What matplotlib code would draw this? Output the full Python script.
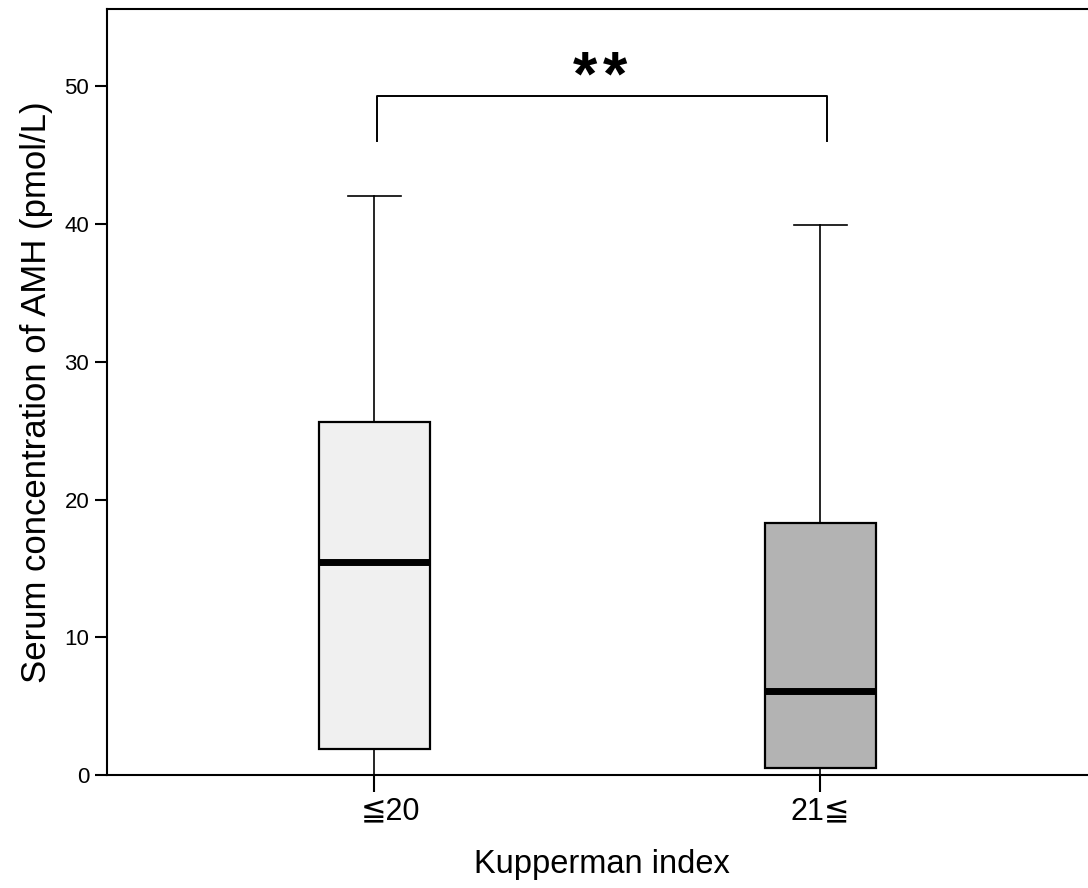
import matplotlib.pyplot as plt
from matplotlib.transforms import ScaledTranslation

plt.rcParams['font.family'] = ['Liberation Sans', 'DejaVu Sans', 'Noto Sans CJK JP']

groups = ['≦20', '21≦']
q1 = [1.9, 0.5]
med = [15.45, 6.1]
q3 = [25.6, 18.3]
whis_lo = [0.0, 0.0]
whis_hi = [42.0, 39.9]
colors = ['#f0f0f0', '#b3b3b3']

stats = []
for i in range(len(groups)):
    stats.append({'med': med[i], 'q1': q1[i], 'q3': q3[i],
                  'whislo': whis_lo[i], 'whishi': whis_hi[i],
                  'fliers': [], 'label': groups[i]})

fig = plt.figure(figsize=(10.88, 8.88), dpi=100)
ax = fig.add_axes([0.098, 0.127, 0.902, 0.863])

bp = ax.bxp(stats, positions=[1, 2], widths=0.25, patch_artist=True,
            showfliers=False,
            boxprops=dict(linewidth=1.6, edgecolor='black'),
            medianprops=dict(color='black', linewidth=5, solid_capstyle='butt'),
            whiskerprops=dict(color='black', linewidth=1.2),
            capprops=dict(color='black', linewidth=1.2),
            capwidths=0.12)
for patch, c in zip(bp['boxes'], colors):
    patch.set_facecolor(c)

# significance bracket + stars
ax.plot([1.005, 1.005, 2.015, 2.015], [46.0, 49.3, 49.3, 46.0], color='black', lw=1.4)
for dx in [-0.15, 0.15]:
    ax.text(1.507, 49.4, '*', ha='center', va='baseline', fontsize=45, fontweight='bold',
            transform=ax.transData + ScaledTranslation(dx, 0, fig.dpi_scale_trans))

ax.set_xlim(0.4, 2.6)
ax.set_ylim(0, 55.6)
ax.set_yticks([0, 10, 20, 30, 40, 50])
ax.set_xticks([1, 2])
ax.set_xticklabels(groups, fontsize=22)
ax.tick_params(axis='y', labelsize=16, length=9, width=1.5, direction='out')
ax.tick_params(axis='x', length=12, width=1.5, direction='out', pad=3)
ax.spines['right'].set_visible(False)
for s in ['left', 'top', 'bottom']:
    ax.spines[s].set_linewidth(1.5)

# first category label sits a little right of its tick in the original
lab0 = ax.get_xticklabels()[0]
lab0.set_transform(lab0.get_transform() + ScaledTranslation(0.16, 0, fig.dpi_scale_trans))

ax.set_ylabel('Serum concentration of AMH (pmol/L)', fontsize=25, labelpad=8)
xl = ax.set_xlabel('Kupperman index', fontsize=23.5)
xl.set_verticalalignment('baseline')
ax.xaxis.set_label_coords(0.505, -0.128)

fig.savefig('out.png', dpi=100)
